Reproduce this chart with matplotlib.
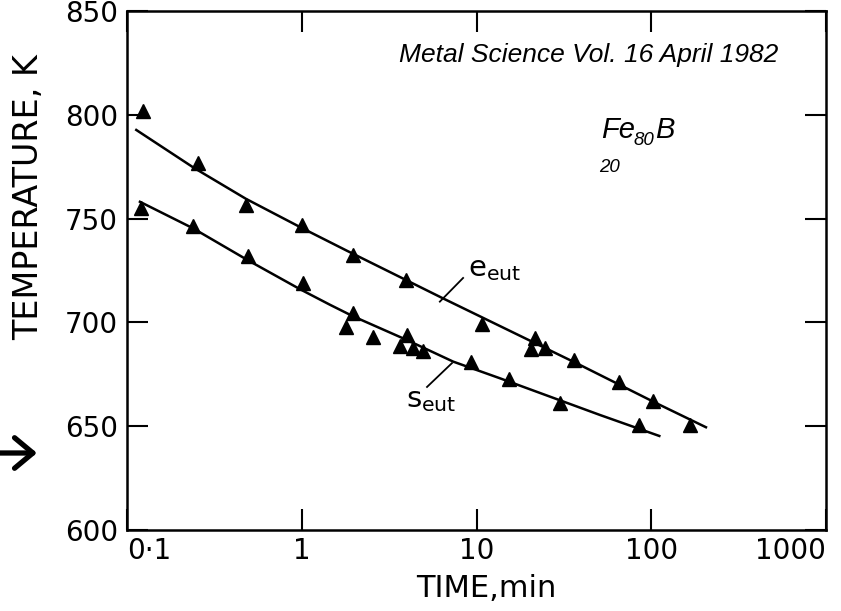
import matplotlib
matplotlib.use("Agg")
import matplotlib.pyplot as plt
from matplotlib.ticker import NullLocator, FixedLocator, FixedFormatter

W, H = 841, 611

# triangles (time in min, temperature in K)
e_time = [0.123, 0.254, 0.48, 1.0, 1.97, 3.95, 10.8, 21.6, 20.4, 24.7, 36.1, 65.6, 103, 167]
e_temp = [802, 777, 756.5, 747, 732.5, 720.5, 699, 692.5, 687, 687.5, 682, 671.5, 662, 650.5]

s_time = [0.121, 0.239, 0.49, 1.02, 1.96, 1.79, 2.55, 3.99, 3.65, 4.31, 4.92, 9.27, 15.4, 30.0, 85.5]
s_temp = [755, 746.5, 732, 719, 704.5, 698, 693, 694, 688.5, 687.5, 686, 681, 672.5, 661, 650.5]

# points along the drawn curves
e_curve_time = [0.113, 0.241, 0.48, 1.0, 1.815, 6.46, 39.1, 107.4, 205.6]
e_curve_temp = [792.7, 774.5, 759.5, 745.5, 734.5, 711.5, 679.5, 661.0, 649.5]

s_curve_time = [0.1186, 0.239, 0.488, 0.977, 1.45, 1.96, 4.0, 7.36, 13.6, 50.9, 111.2]
s_curve_temp = [758.1, 745.3, 730.1, 716.0, 708.5, 703.0, 691.5, 681.1, 673.1, 655.4, 645.3]

x_ticks = [0.1, 1, 10, 100, 1000]
x_tick_labels = ["0·1", "1", "10", "100", "1000"]
y_ticks = [600, 650, 700, 750, 800, 850]


def px(x, y):
    # pixel position in the picture -> figure fraction
    return x / W, 1 - y / H


fig = plt.figure(figsize=(W / 100, H / 100), dpi=100)
ax = fig.add_axes([127 / W, 1 - 530 / H, 699 / W, 519 / H])

ax.plot(e_curve_time, e_curve_temp, color="black", lw=1.8)
ax.plot(s_curve_time, s_curve_temp, color="black", lw=1.8)
ax.plot(e_time, e_temp, "^", color="black", ms=10.5, mec="black")
ax.plot(s_time, s_temp, "^", color="black", ms=10.5, mec="black")

ax.set_xscale("log")
ax.set_xlim(0.1, 1000)
ax.set_ylim(600, 850)
ax.xaxis.set_major_locator(FixedLocator(x_ticks))
ax.xaxis.set_major_formatter(FixedFormatter(x_tick_labels))
ax.xaxis.set_minor_locator(NullLocator())
ax.set_yticks(y_ticks)

for s in ax.spines.values():
    s.set_linewidth(1.8)
ax.tick_params(direction="in", length=15, width=1.5, top=True, right=True,
               labelsize=20)
ax.tick_params(axis="x", pad=5)
ax.tick_params(axis="y", pad=6.5)

labels = ax.get_xticklabels()
labels[0].set_horizontalalignment("left")
labels[-1].set_horizontalalignment("right")

ax.set_xlabel("TIME,min", fontsize=22)
ax.set_ylabel("TEMPERATURE, K", fontsize=24)
ax.xaxis.set_label_coords(0.5136, -0.085)
ax.yaxis.set_label_coords(-0.117, 0.642)

# curve labels with leader lines
ax.plot([6.17, 8.38], [710.0, 721.4], color="black", lw=1.3)
ax.plot([7.24, 5.21], [680.4, 668.9], color="black", lw=1.3)
fig.text(*px(468, 276), r"$\mathregular{e_{eut}}$", fontsize=21, ha="left", va="baseline")
fig.text(*px(406, 407), r"$\mathregular{s_{eut}}$", fontsize=21, ha="left", va="baseline")

it = dict(family="Liberation Sans", style="italic", color="black", va="baseline")
fig.text(*px(778, 62), "Metal Science Vol. 16 April 1982", fontsize=19, ha="right", **it)
fig.text(*px(601, 138), "Fe", fontsize=21, ha="left", **it)
fig.text(*px(633, 145), "80", fontsize=13.5, ha="left", **it)
fig.text(*px(655, 138), "B", fontsize=21, ha="left", **it)
fig.text(*px(599, 172), "20", fontsize=13.5, ha="left", **it)

# arrow at the left edge
ax.annotate("", xy=px(37, 453), xytext=px(0, 453),
            xycoords="figure fraction", textcoords="figure fraction",
            arrowprops=dict(arrowstyle="->,head_length=0.6,head_width=0.5",
                            lw=3.8, color="black", mutation_scale=22,
                            shrinkA=0, shrinkB=0),
            annotation_clip=False)

fig.savefig("out.png", dpi=100)
